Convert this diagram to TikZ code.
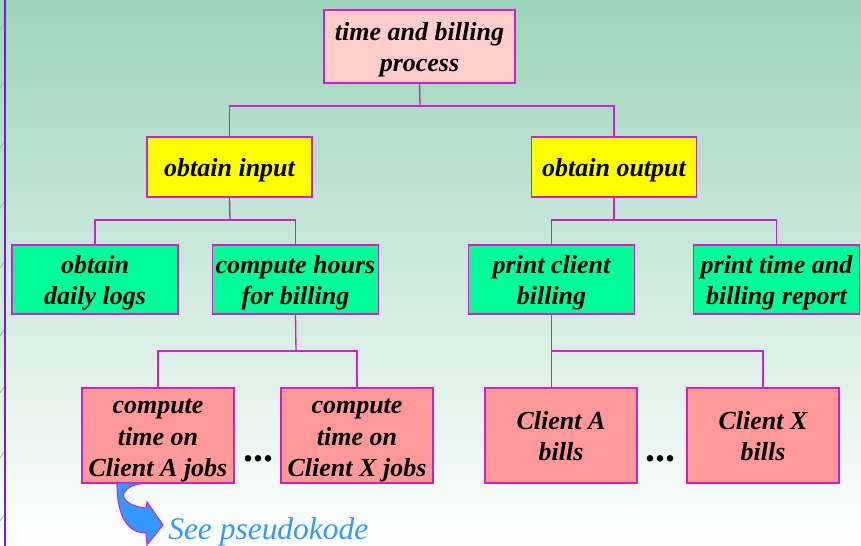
\documentclass[tikz,border=0pt]{standalone}
\usepackage{fontspec}
\setmainfont{Liberation Serif}
\usepackage{tikz}
\usetikzlibrary{positioning}

\definecolor{rim}{RGB}{204,34,204}
\definecolor{toppink}{RGB}{255,204,204}
\definecolor{midyellow}{RGB}{255,255,0}
\definecolor{leafgreen}{RGB}{0,255,153}
\definecolor{jobsalmon}{RGB}{255,153,153}
\definecolor{bgtop}{RGB}{155,212,186}
\definecolor{bgmid}{RGB}{208,233,221}
\definecolor{edgeviolet}{RGB}{120,30,210}
\definecolor{hintblue}{RGB}{51,153,255}
\definecolor{hintdark}{RGB}{34,119,204}

% fixed line box at both ends, so every label sits the same way in its box
\newcommand{\linebox}{\rule[-4.5pt]{0pt}{23.5pt}}
\newcommand{\lbl}[1]{\linebox#1\linebox}

\tikzset{
  box/.style={draw=rim, line width=1.2pt, inner sep=0pt, align=center,
    font=\fontsize{19.5}{23.6}\selectfont\bfseries\itshape},
  topbox/.style={box, fill=toppink, minimum width=143.25pt, minimum height=54.75pt},
  midbox/.style={box, fill=midyellow, minimum width=123.75pt, minimum height=45pt},
  leafbox/.style={box, fill=leafgreen, minimum width=124.5pt, minimum height=51.75pt},
  jobbox/.style={box, fill=jobsalmon, minimum width=114pt, minimum height=71.25pt},
  wire/.style={draw=rim, line width=1pt},
  more/.style={font=\fontsize{30}{30}\selectfont\bfseries, anchor=base, inner sep=0pt}
}

\begin{document}
\begin{tikzpicture}[x=0.75pt,y=-0.75pt]
  \useasboundingbox (0,0) rectangle (861,546);
  % background
  \shade[top color=bgtop, middle color=bgmid, bottom color=white] (0,0) rectangle (861,546);
  \foreach \y in {27,85,145,205,265,333,390,455,518}
    \draw[bgtop!80!teal, line width=0.6pt] (0,\y+3) -- (4,\y-3);
  \draw[edgeviolet, line width=1.5pt] (5,0) -- (5,546);

  % the tree
  \node[topbox] (tbp) at (419.5,46.5) {\lbl{time and billing\\process}};
  \node[midbox] (inp) at (229.5,167) {\lbl{obtain input}};
  \node[midbox] (outp) at (614,167) {\lbl{obtain output}};
  \node[leafbox] (logs) at (95,279.5) {\lbl{obtain\\daily logs}};
  \node[leafbox] (hours) at (295.5,279.5) {\lbl{compute hours\\for billing}};
  \node[leafbox] (pcb) at (551.5,279.5) {\lbl{print client\\billing}};
  \node[leafbox] (report) at (776.5,279.5) {\lbl{print time and\\billing report}};
  \node[jobbox] (jobA) at (158,435.5) {\lbl{compute\\time on\\Client A jobs}};
  \node[jobbox] (jobX) at (357,435.5) {\lbl{compute\\time on\\Client X jobs}};
  \node[jobbox] (billA) at (561,435.5) {\lbl{Client A\\bills}};
  \node[jobbox] (billX) at (763,435.5) {\lbl{Client X\\bills}};
  \node[more] (dotsA) at (258,461) {...};
  \node[more] (dotsB) at (660,461) {...};

  % bus lines
  \coordinate (b1) at (420,106);
  \coordinate (b2) at (230,220);
  \coordinate (b3) at (614,220);
  \coordinate (b4) at (296,351);
  \coordinate (b5) at (551.5,351);
  \draw[wire] (tbp.south) -- (b1);
  \draw[wire] (inp.north) |- (b1) -| (outp.north);
  \draw[wire] (inp.south) -- (b2);
  \draw[wire] (logs.north) |- (b2) -| (hours.north);
  \draw[wire] (outp.south) -- (b3);
  \draw[wire] (pcb.north) |- (b3) -| (report.north);
  \draw[wire] (hours.south) -- (b4);
  \draw[wire] (jobA.north) |- (b4) -| (jobX.north);
  \draw[wire] (pcb.south) -- (pcb.south |- billA.north);
  \draw[wire] (b5) -| (billX.north);

  % curved pointer to the pseudocode
  \fill[hintdark] (121,483.6) -- (142,483.6)
    .. controls (135,484) and (127,487) .. (124,493) -- cycle;
  \filldraw[fill=hintblue, draw=rim, line width=0.8pt]
    (117,483.6) .. controls (117,520) and (130,533) .. (146,533)
    -- (147,545) -- (163,525) -- (147,502) -- (146,508)
    .. controls (132,507) and (121,500) .. (124,493)
    .. controls (127,487) and (135,484) .. (142,483.6);
  \node[anchor=base west, inner sep=0pt, text=hintblue,
    font=\fontsize{23.6}{28}\selectfont\itshape] (hint) at (168,539) {See pseudokode};
\end{tikzpicture}
\end{document}
